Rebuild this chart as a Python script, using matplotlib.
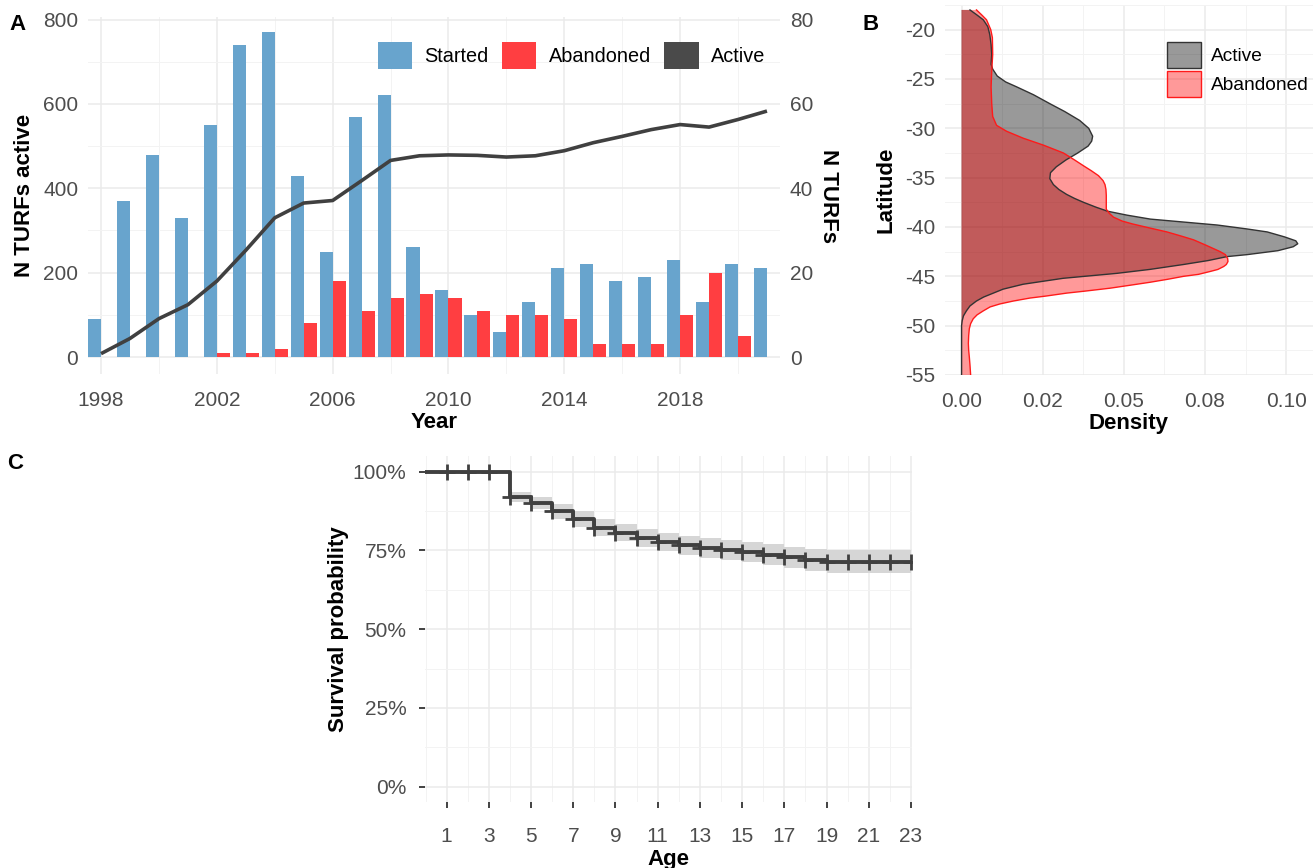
import numpy as np
import matplotlib
matplotlib.use("Agg")
import matplotlib.pyplot as plt
from matplotlib.patches import Patch

plt.rcParams['font.family'] = ['Liberation Sans', 'DejaVu Sans']
plt.rcParams['axes.unicode_minus'] = False

# --- panel A: TURFs started / abandoned per year, active total ---
years = np.arange(1998, 2022)
started = [9, 37, 48, 33, 55, 74, 77, 43, 25, 57, 62, 26,
           16, 10, 6, 13, 21, 22, 18, 19, 23, 13, 22, 21]
abandoned = [0, 0, 0, 0, 1, 1, 2, 8, 18, 11, 14, 15,
             14, 11, 10, 10, 9, 3, 3, 3, 10, 20, 5, 0]
active = [8, 44, 91, 124, 180, 253, 330, 365, 371, 418, 466, 477,
          479, 478, 474, 477, 489, 508, 523, 539, 551, 545, 563, 583]

# --- panel B: latitude density (latitude, density) ---
act_lat = [-18.0, -18.5, -19.0, -19.7, -20.5, -21.5, -22.5, -23.5, -24.0, -24.7,
           -25.3, -25.8, -26.6, -27.5, -28.3, -29.2, -30.0, -30.8, -31.3, -31.8,
           -32.5, -33.2, -33.9, -34.5, -35.1, -35.7, -36.2, -36.7, -37.1, -37.5,
           -38.0, -38.4, -38.8, -39.2, -39.8, -40.2, -40.5, -41.0, -41.4, -41.7,
           -42.0, -42.4, -42.8, -43.0, -43.4, -43.8, -44.3, -44.7, -45.2, -45.8,
           -46.3, -46.7, -47.1, -47.5, -48.0, -48.5, -49.0, -49.5, -50.0, -55.0]
act_den = [0.0026, 0.0047, 0.0067, 0.0081, 0.0087, 0.0091, 0.0093, 0.0091, 0.0096, 0.0110,
           0.0136, 0.0170, 0.0222, 0.0272, 0.0318, 0.0364, 0.0392, 0.0404, 0.0401, 0.0390,
           0.0358, 0.0322, 0.0292, 0.0274, 0.0272, 0.0283, 0.0300, 0.0324, 0.0348, 0.0376,
           0.0415, 0.0450, 0.0510, 0.0582, 0.0788, 0.0880, 0.0942, 0.0995, 0.1030, 0.1036,
           0.1022, 0.0975, 0.0880, 0.0818, 0.0760, 0.0684, 0.0580, 0.0478, 0.0313, 0.0190,
           0.0128, 0.0098, 0.0068, 0.0046, 0.0026, 0.0015, 0.0006, 0.0002, 0.0, 0.0]

aban_lat = [-18.0, -18.5, -19.0, -20.0, -20.8, -22.5, -24.2, -25.8, -27.5, -28.8,
            -29.7, -30.3, -31.0, -31.7, -32.5, -33.2, -33.8, -34.3, -34.8, -35.3,
            -35.7, -36.2, -36.8, -37.5, -38.2, -38.6, -39.0, -39.4, -39.7, -40.1,
            -40.5, -40.9, -41.3, -41.8, -42.2, -42.5, -42.8, -43.2, -43.5, -43.8,
            -44.0, -44.3, -44.5, -44.8, -45.0, -45.3, -45.6, -45.9, -46.2, -46.5,
            -46.7, -47.0, -47.2, -47.5, -47.8, -48.1, -48.5, -48.9, -49.3, -49.8,
            -50.3, -51.0, -51.8, -52.5, -53.2, -54.0, -55.0]
aban_den = [0.0046, 0.0062, 0.0077, 0.0090, 0.0095, 0.0096, 0.0093, 0.0091, 0.0093, 0.0096,
            0.0108, 0.0139, 0.0190, 0.0252, 0.0314, 0.0348, 0.0376, 0.0400, 0.0422, 0.0436,
            0.0442, 0.0445, 0.0446, 0.0446, 0.0446, 0.0455, 0.0468, 0.0495, 0.0528, 0.0580,
            0.0633, 0.0675, 0.0715, 0.0750, 0.0777, 0.0797, 0.0813, 0.0820, 0.0821, 0.0816,
            0.0808, 0.0790, 0.0767, 0.0730, 0.0684, 0.0635, 0.0581, 0.0520, 0.0458, 0.0380,
            0.0324, 0.0260, 0.0211, 0.0160, 0.0118, 0.0088, 0.0067, 0.0048, 0.0036, 0.0028,
            0.0024, 0.0022, 0.0021, 0.0022, 0.0024, 0.0026, 0.0028]

# --- panel C: Kaplan-Meier survival by age ---
age = np.arange(0, 24)
surv = [1.0, 1.0, 1.0, 1.0, 0.921, 0.902, 0.874, 0.850, 0.822, 0.806, 0.790, 0.777,
        0.766, 0.757, 0.752, 0.744, 0.736, 0.728, 0.721, 0.714, 0.714, 0.714, 0.714, 0.714]
surv_hi = [1.0, 1.0, 1.0, 1.0, 0.937, 0.921, 0.896, 0.874, 0.849, 0.834, 0.819, 0.807,
           0.797, 0.789, 0.784, 0.777, 0.769, 0.762, 0.756, 0.752, 0.752, 0.752, 0.752, 0.752]
surv_lo = [1.0, 1.0, 1.0, 1.0, 0.904, 0.882, 0.851, 0.826, 0.796, 0.779, 0.762, 0.748,
           0.736, 0.726, 0.720, 0.712, 0.703, 0.694, 0.686, 0.678, 0.678, 0.678, 0.678, 0.678]

BLUE = '#68A4CD'
RED = '#FF3E41'
DARK = '#404040'
TICK = '#4D4D4D'
GRID = '#EBEBEB'
GRID_MINOR = '#F3F3F3'
FS = 15
TFS = 16

W, H = 1313, 868
fig = plt.figure(figsize=(W / 100, H / 100), dpi=100)


def box(left, top, right, bottom):
    return [left / W, 1 - bottom / H, (right - left) / W, (bottom - top) / H]


def minimal(ax):
    for s in ax.spines.values():
        s.set_visible(False)
    ax.grid(True, which='major', color=GRID, lw=1.1)
    ax.grid(True, which='minor', color=GRID_MINOR, lw=0.7)
    ax.set_axisbelow(True)
    ax.tick_params(which='both', length=0, labelsize=FS, labelcolor=TICK, pad=7)


# ---------------- A ----------------
axA = fig.add_axes(box(88, 17.4, 780, 373.9))
minimal(axA)
axA.bar(years, started, width=-0.45, align='edge', color=BLUE)
axA.bar(years, abandoned, width=0.45, align='edge', color=RED)
axA.set_xlim(1997.55, 2021.45)
axA.set_ylim(-4, 80.5)
axA.set_xticks([1998, 2002, 2006, 2010, 2014, 2018])
axA.set_xticks([2000, 2004, 2008, 2012, 2016, 2020], minor=True)
axA.set_yticks([0, 20, 40, 60, 80])
axA.set_yticks([10, 30, 50, 70], minor=True)
axA.set_xlabel('Year', fontsize=TFS, fontweight='bold', labelpad=2)
axA.tick_params(axis='x', pad=12)

# active total on the left-hand scale, bars keep the right-hand one
axA2 = axA.twinx()
for s in axA2.spines.values():
    s.set_visible(False)
axA2.plot(years, active, color=DARK, lw=2.6, solid_capstyle='butt')
axA2.set_ylim(-40, 805)
axA2.set_yticks([0, 200, 400, 600, 800])
axA2.yaxis.tick_left()
axA2.yaxis.set_label_position('left')
axA2.tick_params(length=0, labelsize=FS, labelcolor=TICK, pad=7)
axA2.set_ylabel('N TURFs active', fontsize=TFS, fontweight='bold', labelpad=6)

axA.yaxis.tick_right()
axA.yaxis.set_label_position('right')
axA.tick_params(axis='y', which='both', length=0, labelsize=FS, labelcolor=TICK, pad=7)
axA.set_ylabel('N TURFs', fontsize=TFS, fontweight='bold', rotation=-90,
               labelpad=11, va='center')

legA = [Patch(facecolor=BLUE, label='Started'),
        Patch(facecolor=RED, label='Abandoned'),
        Patch(facecolor='#4A4A4A', label='Active')]
fig.legend(handles=legA, loc='upper left', bbox_to_anchor=(378 / W, 1 - 42 / H),
           ncol=3, frameon=False, fontsize=14.3, borderpad=0, borderaxespad=0,
           handlelength=1.72, handleheight=1.72, handletextpad=0.62, columnspacing=0.68)

# ---------------- B ----------------
axB = fig.add_axes(box(945, 5, 1313, 375))
minimal(axB)
axB.fill_betweenx(act_lat, 0, act_den, facecolor=(0, 0, 0, 0.4),
                  edgecolor='none')
axB.plot(act_den, act_lat, color='#333333', lw=1.0)
axB.fill_betweenx(aban_lat, 0, aban_den, facecolor=(1, 0, 0, 0.4),
                  edgecolor='none')
axB.plot(aban_den, aban_lat, color='#FF1A1A', lw=1.0)
axB.set_xlim(-0.0051, 0.1083)
axB.set_ylim(-55, -18)
axB.set_xticks([0, 0.025, 0.05, 0.075, 0.1])
axB.set_xticklabels(['0.00', '0.02', '0.05', '0.08', '0.10'])
axB.set_xticks([0.0125, 0.0375, 0.0625, 0.0875], minor=True)
axB.set_yticks([-55, -50, -45, -40, -35, -30, -25, -20])
axB.set_yticks([-52.5, -47.5, -42.5, -37.5, -32.5, -27.5, -22.5, -17.5], minor=True)
axB.tick_params(axis='x', pad=12)
axB.set_xlabel('Density', fontsize=TFS, fontweight='bold', labelpad=2)
axB.set_ylabel('Latitude', fontsize=TFS, fontweight='bold', labelpad=6)

legB = [Patch(facecolor=(0, 0, 0, 0.4), edgecolor='#333333', lw=1.0, label='Active'),
        Patch(facecolor=(1, 0, 0, 0.4), edgecolor='#FF1A1A', lw=1.0, label='Abandoned')]
fig.legend(handles=legB, loc='upper left', bbox_to_anchor=(1167 / W, 1 - 42 / H),
           ncol=1, frameon=False, fontsize=13.8, borderpad=0, borderaxespad=0,
           handlelength=1.75, handleheight=1.75, handletextpad=0.55, labelspacing=0.12)

# ---------------- C ----------------
axC = fig.add_axes(box(424.5, 456, 912, 802.4))
minimal(axC)
axC.fill_between(age, surv_lo, surv_hi, step='post', color='#D6D6D6', lw=0)
axC.step(age, surv, where='post', color=DARK, lw=2.8)
axC.plot(age[1:], surv[1:], ls='none', marker='+', ms=11, mew=2.0, color=DARK)
axC.set_xlim(-0.05, 23.05)
axC.set_ylim(-0.05, 1.05)
axC.set_xticks(np.arange(1, 24, 2))
axC.set_xticks(np.arange(0, 24, 2), minor=True)
axC.set_yticks([0, 0.25, 0.5, 0.75, 1.0])
axC.set_yticklabels(['0%', '25%', '50%', '75%', '100%'])
axC.set_yticks([0.125, 0.375, 0.625, 0.875], minor=True)
axC.tick_params(which='major', length=4, width=1.3, color='#333333')
axC.tick_params(axis='x', pad=14)
axC.tick_params(axis='y', pad=9)
axC.set_xlabel('Age', fontsize=TFS, fontweight='bold', labelpad=2)
axC.set_ylabel('Survival probability', fontsize=TFS, fontweight='bold', labelpad=3)

# panel tags
for tag, x, y in [('A', 18, 25), ('B', 871, 25), ('C', 15, 463)]:
    fig.text(x / W, 1 - y / H, tag, fontsize=TFS, fontweight='bold',
             ha='center', va='center')

fig.savefig('out.png', dpi=100)
